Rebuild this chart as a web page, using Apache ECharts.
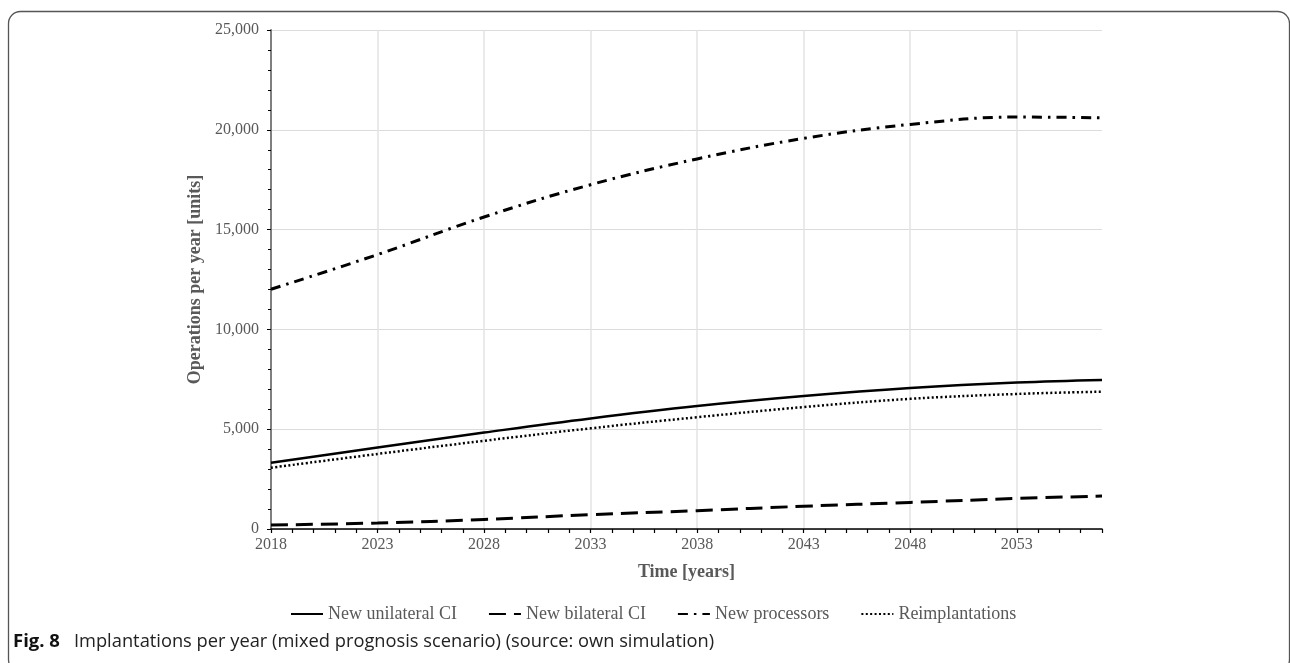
<!DOCTYPE html>
<html><head><meta charset="utf-8">
<script src="https://cdn.jsdelivr.net/npm/echarts@6/dist/echarts.min.js"></script>
<style>html,body{margin:0;padding:0;background:#fff}#c{width:1290px;height:663px}</style>
</head><body><div id="c"></div>
<script>
const years = [2018,2019,2020,2021,2022,2023,2024,2025,2026,2027,2028,2029,2030,2031,2032,2033,2034,2035,2036,2037,
  2038,2039,2040,2041,2042,2043,2044,2045,2046,2047,2048,2049,2050,2051,2052,2053,2054,2055,2056,2057];
const sampleYears = [2018, 2023, 2028, 2033, 2038, 2043, 2048, 2053, 2057];
const unilateral = [3320, 4080, 4830, 5540, 6160, 6660, 7060, 7340, 7470];
const bilateral = [200, 300, 480, 720, 920, 1140, 1330, 1530, 1650];
const processors = [12010, 13750, 15630, 17250, 18540, 19570, 20270, 20640, 20600];
const reimplant = [3070, 3760, 4420, 5045, 5600, 6110, 6520, 6765, 6880];
const seriesNames = ['New unilateral CI', 'New bilateral CI', 'New processors', 'Reimplantations'];
const yTicks = [0, 5000, 10000, 15000, 20000, 25000];

function toSeries(vals) {
  const m = {};
  sampleYears.forEach((y, i) => { m[y] = vals[i]; });
  return years.map(y => (m[y] === undefined ? null : m[y]));
}
const serif = '"Liberation Serif", "Times New Roman", serif';
const grey = '#595959';

const chart = echarts.init(document.getElementById('c'), null, {renderer: 'canvas'});
function line(name, vals, type, width) {
  return {
    name: name, type: 'line', data: toSeries(vals), smooth: 0.4, connectNulls: true,
    symbol: 'none', showSymbol: false,
    lineStyle: {color: '#000', width: width, type: type, cap: 'butt'},
    itemStyle: {color: '#000'}
  };
}
chart.setOption({
  animation: false,
  backgroundColor: '#fff',
  grid: {left: 271, right: 188, top: 30, bottom: 134, containLabel: false},
  xAxis: {
    type: 'category', data: years, boundaryGap: false,
    name: 'Time [years]', nameLocation: 'middle', nameGap: 34,
    nameTextStyle: {fontFamily: serif, fontWeight: 'bold', fontSize: 18, color: grey},
    axisLine: {lineStyle: {color: '#000', width: 1.5}},
    axisTick: {show: true, interval: 0, length: 4, lineStyle: {color: '#000', width: 1.2}},
    axisLabel: {interval: 4, fontFamily: serif, fontSize: 16, color: grey, margin: 8},
    splitLine: {show: true, interval: 4, lineStyle: {color: '#e3e3e3', width: 1.5}}
  },
  yAxis: {
    type: 'value', min: yTicks[0], max: yTicks[yTicks.length - 1], interval: yTicks[1] - yTicks[0],
    name: 'Operations per year [units]', nameLocation: 'middle', nameGap: 51,
    nameTextStyle: {fontFamily: serif, fontWeight: 'bold', fontSize: 18, color: grey},
    axisLine: {show: true, lineStyle: {color: '#7f7f7f', width: 2}},
    axisTick: {show: true, length: 4, lineStyle: {color: '#000', width: 1}},
    minorTick: {show: true, splitNumber: 5, length: 3, lineStyle: {color: '#000', width: 1}},
    axisLabel: {fontFamily: serif, fontSize: 16, color: grey, margin: 12,
      formatter: v => v.toLocaleString('en-US')},
    splitLine: {show: true, lineStyle: {color: '#dcdcdc', width: 1}}
  },
  legend: {
    data: seriesNames, left: 285, top: 600, itemWidth: 32, itemHeight: 2, itemGap: 31,
    itemStyle: {opacity: 0, borderWidth: 0},
    textStyle: {fontFamily: serif, fontSize: 18, color: grey}
  },
  series: [
    line(seriesNames[0], unilateral, 'solid', 2.5),
    line(seriesNames[1], bilateral, [17, 8], 3),
    line(seriesNames[2], processors, [10, 6, 2.5, 6], 3),
    line(seriesNames[3], reimplant, [2, 2.4], 2.5)
  ],
  graphic: [
    {type: 'rect', left: 6, top: 9, shape: {x: 0, y: 0, width: 1281, height: 660, r: 12},
      style: {fill: 'none', stroke: '#555', lineWidth: 1.3}, silent: true},
    {type: 'text', left: 13, top: 632,
      style: {text: '{b|Fig. 8}{r|Implantations per year (mixed prognosis scenario) (source: own simulation)}',
        rich: {
          b: {fontFamily: '"Open Sans", "Noto Sans", sans-serif', fontWeight: 'bold', fontSize: 18.5, fill: '#111', padding: [0, 14, 0, 0]},
          r: {fontFamily: '"Open Sans", "Noto Sans", sans-serif', fontSize: 18.3, fill: '#222'}
        }}}
  ]
});
</script></body></html>
